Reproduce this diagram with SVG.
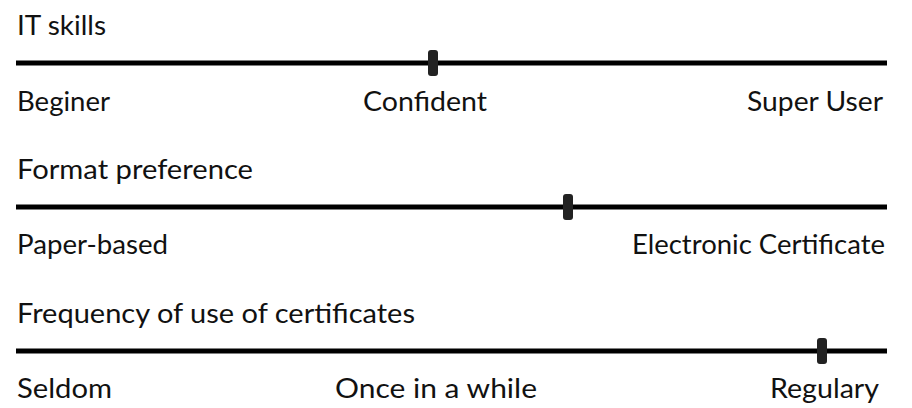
<svg xmlns="http://www.w3.org/2000/svg" width="912" height="408" viewBox="0 0 912 408">
<style>
.t{font-family:Lato,"Open Sans","DejaVu Sans",sans-serif;font-size:27px;fill:#111;}
.ln{stroke:#000;stroke-width:5;stroke-linecap:butt;}
.mk{fill:#222;}
</style>
<rect width="912" height="408" fill="#fff"/>
<g id="connectors">
<line class="ln" x1="16" y1="63" x2="887" y2="63"/>
<line class="ln" x1="16" y1="207" x2="887" y2="207"/>
<line class="ln" x1="16" y1="351" x2="887" y2="351"/>
</g>
<g id="it-skills">
<text class="t" x="17" y="35" textLength="89" lengthAdjust="spacingAndGlyphs">IT skills</text>
<rect class="mk" x="428" y="50" width="10" height="26" rx="3"/>
<text class="t" x="17" y="111" textLength="93" lengthAdjust="spacingAndGlyphs">Beginer</text>
<text class="t" x="363" y="111" textLength="124" lengthAdjust="spacingAndGlyphs">Confident</text>
<text class="t" x="747" y="111" textLength="136" lengthAdjust="spacingAndGlyphs">Super User</text>
</g>
<g id="format-preference">
<text class="t" x="17" y="179" textLength="236" lengthAdjust="spacingAndGlyphs">Format preference</text>
<rect class="mk" x="563" y="194" width="10" height="26" rx="3"/>
<text class="t" x="17" y="254" textLength="151" lengthAdjust="spacingAndGlyphs">Paper-based</text>
<text class="t" x="632" y="254" textLength="253" lengthAdjust="spacingAndGlyphs">Electronic Certificate</text>
</g>
<g id="frequency">
<text class="t" x="17" y="323" textLength="398" lengthAdjust="spacingAndGlyphs">Frequency of use of certificates</text>
<rect class="mk" x="817" y="338" width="10" height="26" rx="3"/>
<text class="t" x="17" y="398" textLength="95" lengthAdjust="spacingAndGlyphs">Seldom</text>
<text class="t" x="335" y="398" textLength="202" lengthAdjust="spacingAndGlyphs">Once in a while</text>
<text class="t" x="770" y="398" textLength="109" lengthAdjust="spacingAndGlyphs">Regulary</text>
</g>
</svg>
